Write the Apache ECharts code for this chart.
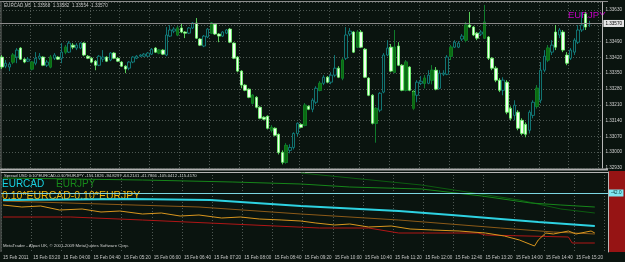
<!DOCTYPE html>
<html><head><meta charset="utf-8">
<script src="https://cdn.jsdelivr.net/npm/echarts@6/dist/echarts.min.js"></script>
<style>html,body{margin:0;padding:0;background:#0a140f;}#c{width:625px;height:262px;}</style>
</head><body><div id="c"></div>
<script>
// ---- data ----
const totalSlots = 161; // 158 bars + chart shift space
const tickLabels = ['15 Feb 2011','15 Feb 03:20','15 Feb 04:00','15 Feb 04:40','15 Feb 05:20','15 Feb 06:00','15 Feb 06:40','15 Feb 07:20','15 Feb 08:00','15 Feb 08:40','15 Feb 09:20','15 Feb 10:00','15 Feb 10:40','15 Feb 11:20','15 Feb 12:00','15 Feb 12:40','15 Feb 13:20','15 Feb 14:00','15 Feb 14:40','15 Feb 15:20'];
const priceTicks = {min: 1.3293, max: 1.33665, step: 0.0007};

const cadOpen = [1.33421,1.33381,1.33377,1.33399,1.33421,1.33461,1.33412,1.33403,1.33368,1.33394,1.33416,1.33421,1.33385,1.33377,1.33416,1.33421,1.33416,1.33443,1.33443,1.33474,1.33461,1.33461,1.33483,1.33425,1.33416,1.33403,1.33385,1.33412,1.33421,1.33408,1.33439,1.33416,1.33399,1.33381,1.33372,1.33399,1.33416,1.33425,1.33425,1.33425,1.33434,1.33461,1.33439,1.33452,1.33430,1.33514,1.33536,1.33519,1.33550,1.33532,1.33527,1.33550,1.33572,1.33501,1.33470,1.33510,1.33527,1.33567,1.33523,1.33514,1.33527,1.33545,1.33483,1.33421,1.33359,1.33297,1.33279,1.33217,1.33243,1.33199,1.33155,1.33159,1.33097,1.33106,1.33079,1.32999,1.32955,1.33008,1.33021,1.33083,1.33123,1.33119,1.33203,1.33190,1.33221,1.33274,1.33305,1.33332,1.33310,1.33341,1.33372,1.33328,1.33416,1.33523,1.33532,1.33465,1.33532,1.33456,1.33328,1.33252,1.33128,1.33186,1.33266,1.33430,1.33465,1.33354,1.33470,1.33385,1.33274,1.33377,1.33270,1.33252,1.33305,1.33305,1.33305,1.33319,1.33363,1.33283,1.33345,1.33345,1.33425,1.33465,1.33465,1.33501,1.33496,1.33563,1.33554,1.33527,1.33523,1.33505,1.33510,1.33416,1.33372,1.33319,1.33274,1.33310,1.33194,1.33163,1.33177,1.33141,1.33123,1.33097,1.33163,1.33203,1.33230,1.33363,1.33408,1.33443,1.33532,1.33519,1.33532,1.33430,1.33416,1.33443,1.33487,1.33541,1.33612,1.33568];
const cadHigh = [1.33430,1.33408,1.33399,1.33439,1.33461,1.33465,1.33416,1.33421,1.33403,1.33443,1.33439,1.33425,1.33408,1.33430,1.33439,1.33425,1.33483,1.33474,1.33492,1.33483,1.33483,1.33487,1.33487,1.33430,1.33421,1.33408,1.33430,1.33452,1.33425,1.33443,1.33443,1.33421,1.33403,1.33385,1.33403,1.33425,1.33430,1.33434,1.33439,1.33443,1.33461,1.33465,1.33456,1.33456,1.33554,1.33563,1.33554,1.33559,1.33572,1.33536,1.33554,1.33576,1.33594,1.33505,1.33519,1.33550,1.33576,1.33572,1.33527,1.33536,1.33545,1.33550,1.33487,1.33425,1.33363,1.33301,1.33283,1.33257,1.33248,1.33203,1.33159,1.33163,1.33119,1.33110,1.33083,1.33008,1.33039,1.33035,1.33088,1.33132,1.33128,1.33217,1.33208,1.33239,1.33292,1.33314,1.33341,1.33337,1.33354,1.33430,1.33381,1.33416,1.33554,1.33550,1.33536,1.33541,1.33541,1.33461,1.33332,1.33257,1.33199,1.33266,1.33439,1.33496,1.33479,1.33541,1.33487,1.33390,1.33408,1.33381,1.33274,1.33319,1.33337,1.33341,1.33363,1.33385,1.33377,1.33363,1.33363,1.33430,1.33474,1.33496,1.33492,1.33523,1.33576,1.33621,1.33559,1.33532,1.33541,1.33652,1.33514,1.33421,1.33381,1.33328,1.33332,1.33319,1.33203,1.33230,1.33186,1.33150,1.33132,1.33186,1.33230,1.33297,1.33399,1.33452,1.33474,1.33496,1.33563,1.33550,1.33541,1.33443,1.33461,1.33505,1.33563,1.33621,1.33621,1.33582];
const cadLow = [1.33368,1.33372,1.33359,1.33390,1.33394,1.33408,1.33394,1.33399,1.33363,1.33385,1.33408,1.33381,1.33377,1.33372,1.33408,1.33408,1.33394,1.33434,1.33439,1.33456,1.33452,1.33456,1.33425,1.33412,1.33394,1.33363,1.33381,1.33399,1.33399,1.33403,1.33412,1.33399,1.33377,1.33350,1.33363,1.33394,1.33412,1.33421,1.33421,1.33421,1.33430,1.33439,1.33434,1.33430,1.33425,1.33510,1.33527,1.33514,1.33527,1.33505,1.33523,1.33545,1.33501,1.33470,1.33465,1.33505,1.33523,1.33519,1.33487,1.33510,1.33523,1.33483,1.33412,1.33354,1.33283,1.33270,1.33239,1.33212,1.33194,1.33146,1.33141,1.33101,1.33088,1.33070,1.32990,1.32946,1.32950,1.32995,1.33012,1.33070,1.33106,1.33115,1.33186,1.33177,1.33212,1.33270,1.33297,1.33305,1.33301,1.33332,1.33328,1.33319,1.33408,1.33514,1.33439,1.33461,1.33461,1.33328,1.33248,1.33123,1.33043,1.33177,1.33261,1.33425,1.33354,1.33350,1.33381,1.33270,1.33270,1.33270,1.33230,1.33221,1.33297,1.33283,1.33301,1.33301,1.33274,1.33279,1.33337,1.33341,1.33408,1.33461,1.33461,1.33492,1.33487,1.33550,1.33514,1.33496,1.33514,1.33501,1.33408,1.33363,1.33310,1.33266,1.33252,1.33168,1.33141,1.33141,1.33097,1.33075,1.33066,1.33083,1.33150,1.33194,1.33217,1.33354,1.33399,1.33430,1.33452,1.33505,1.33443,1.33385,1.33408,1.33430,1.33479,1.33532,1.33541,1.33554];
const cadClose = [1.33377,1.33394,1.33390,1.33430,1.33452,1.33412,1.33399,1.33412,1.33399,1.33416,1.33425,1.33385,1.33399,1.33421,1.33430,1.33412,1.33443,1.33465,1.33483,1.33465,1.33474,1.33483,1.33430,1.33416,1.33399,1.33385,1.33425,1.33421,1.33403,1.33439,1.33416,1.33403,1.33381,1.33368,1.33399,1.33421,1.33425,1.33430,1.33434,1.33439,1.33456,1.33443,1.33452,1.33434,1.33519,1.33541,1.33545,1.33550,1.33532,1.33527,1.33550,1.33572,1.33505,1.33474,1.33514,1.33545,1.33572,1.33523,1.33514,1.33532,1.33541,1.33487,1.33416,1.33359,1.33297,1.33274,1.33243,1.33252,1.33199,1.33150,1.33146,1.33106,1.33110,1.33075,1.32999,1.32955,1.33030,1.33021,1.33083,1.33128,1.33110,1.33208,1.33190,1.33230,1.33283,1.33305,1.33332,1.33310,1.33341,1.33372,1.33332,1.33408,1.33519,1.33536,1.33443,1.33532,1.33465,1.33332,1.33252,1.33128,1.33194,1.33261,1.33430,1.33461,1.33359,1.33465,1.33385,1.33274,1.33399,1.33274,1.33252,1.33310,1.33314,1.33328,1.33341,1.33363,1.33279,1.33350,1.33350,1.33421,1.33465,1.33487,1.33483,1.33514,1.33563,1.33554,1.33519,1.33505,1.33532,1.33576,1.33416,1.33372,1.33319,1.33274,1.33319,1.33177,1.33150,1.33208,1.33106,1.33083,1.33079,1.33177,1.33221,1.33283,1.33363,1.33425,1.33461,1.33474,1.33465,1.33541,1.33452,1.33394,1.33452,1.33496,1.33541,1.33563,1.33554,1.33570];

// EURJPY overlay bars (dark green), only where they show
const jpyIdx   = [3,8,13,17,42,47,56,67,72,76,81,85,91,95,100,105,108,110,113,115,120,124,129,143,146];
const jpyOpen  = [1.33399,1.33368,1.33377,1.33443,1.33439,1.33519,1.33527,1.33217,1.33097,1.32955,1.33119,1.33274,1.33328,1.33465,1.33128,1.33354,1.33274,1.33194,1.33305,1.33319,1.33425,1.33496,1.33505,1.33203,1.33408];
const jpyHigh  = [1.33439,1.33403,1.33430,1.33474,1.33456,1.33559,1.33576,1.33257,1.33119,1.33039,1.33217,1.33314,1.33416,1.33541,1.33199,1.33541,1.33408,1.33274,1.33341,1.33385,1.33474,1.33576,1.33652,1.33297,1.33474];
const jpyLow   = [1.33390,1.33363,1.33372,1.33434,1.33434,1.33514,1.33523,1.33212,1.33088,1.32950,1.33115,1.33270,1.33319,1.33461,1.33043,1.33350,1.33270,1.33186,1.33283,1.33301,1.33408,1.33487,1.33501,1.33194,1.33399];
const jpyClose = [1.33430,1.33399,1.33421,1.33465,1.33452,1.33550,1.33572,1.33252,1.33110,1.33030,1.33208,1.33305,1.33408,1.33532,1.33194,1.33465,1.33399,1.33266,1.33328,1.33363,1.33465,1.33563,1.33576,1.33283,1.33461];

// lower window: [bar index, value]
const cadNorm   = [[0,-56],[34,-54],[55,-56],[79,-68],[105,-78],[119,-86],[132,-94],[142,-100],[157,-108]];
const jpyNorm   = [[0,-12],[37,-16],[61,-20],[79,-24],[92,-30],[111,-34],[127,-48],[140,-62],[148,-66],[157,-70]];
const jpyNorm2  = [[79,-2],[111,-26],[137,-56],[148,-74],[157,-82]];
const spread    = [[0,-66],[5,-70],[10,-68],[15,-76],[21,-74],[26,-80],[31,-78],[37,-84],[42,-82],[47,-88],[52,-86],[58,-92],[63,-90],[68,-94],[74,-96],[79,-98],[83,-102],[88,-106],[92,-104],[97,-110],[103,-108],[108,-114],[114,-116],[121,-118],[128,-122],[133,-128],[137,-136],[141,-148],[142,-136],[144,-122],[146,-124],[150,-118],[152,-124],[156,-118],[157,-122]];
const spreadMA  = [[0,-58],[52,-70],[79,-84],[105,-96],[132,-112],[146,-120],[157,-124]];
const spreadLow = [[0,-90],[18,-90],[37,-96],[84,-112],[97,-112],[105,-122],[126,-122],[128,-126],[150,-130],[151,-142],[157,-142]];
const levelValue = -42;

// ---- build ----
const cats = Array.from({length: totalSlots}, (_, i) => String(i));
const cadData = cadOpen.map((o, i) => [o, cadClose[i], cadLow[i], cadHigh[i]]);
const jpyData = jpyIdx.map((ix, k) => [ix, jpyOpen[k], jpyClose[k], jpyLow[k], jpyHigh[k]]);
const gridDot = {show: true, lineStyle: {color: '#4e5853', type: [1, 2], width: 1}};
const vSplit = {show: true, interval: (i) => i % 8 === 0, lineStyle: gridDot.lineStyle};
const FONT = 'Arial, "Liberation Sans", sans-serif';

const chart = echarts.init(document.getElementById('c'), null, {renderer: 'canvas'});
chart.setOption({
  backgroundColor: '#0a140f',
  animation: false,
  grid: [
    {left: 0, right: 17, top: 2, height: 166},
    {left: 0, right: 17, top: 172, height: 80}
  ],
  xAxis: [
    {type: 'category', gridIndex: 0, data: cats, boundaryGap: true,
     axisLine: {show: false}, axisTick: {show: false}, axisLabel: {show: false}, splitLine: vSplit},
    {type: 'category', gridIndex: 1, data: cats, boundaryGap: true,
     axisLine: {show: true, lineStyle: {color: '#b4b4b4', width: 1}}, axisTick: {show: false},
     axisLabel: {show: true, interval: (i) => i % 8 === 0 && i / 8 < tickLabels.length,
       formatter: (v, i) => tickLabels[i / 8] || '', align: 'left', color: '#c8c8c8', fontSize: 4.6, fontFamily: FONT, margin: 3},
     splitLine: vSplit}
  ],
  yAxis: [
    {type: 'value', gridIndex: 0, position: 'right', min: priceTicks.min, max: priceTicks.max, interval: priceTicks.step,
     axisLine: {show: true, lineStyle: {color: '#b8b8b8'}}, axisTick: {show: false},
     axisLabel: {color: '#d0d0d0', fontSize: 4.6, fontFamily: FONT, margin: 3, showMaxLabel: false,
       formatter: (v) => v.toFixed(5)},
     splitLine: gridDot},
    {type: 'value', gridIndex: 1, position: 'right', min: -160, max: 0,
     axisLine: {show: true, lineStyle: {color: '#b8b8b8'}}, axisTick: {show: false},
     axisLabel: {show: false}, splitLine: {show: false}}
  ],
  series: [
    {type: 'candlestick', name: 'EURCAD', xAxisIndex: 0, yAxisIndex: 0, data: cadData, barWidth: 3,
     itemStyle: {color: '#0a140f', color0: '#f4fff2', borderColor: '#138c8c', borderColor0: '#6cff6c', borderWidth: 0.8},
     markLine: {silent: true, symbol: ['none', 'none'], precision: 5,
       lineStyle: {color: '#8a8a8a', type: 'solid', width: 1},
       label: {show: true, position: 'end', distance: 1, formatter: (p) => p.value.toFixed(5),
         backgroundColor: '#e6e6e6', color: '#000', fontSize: 4.6, fontFamily: FONT, padding: [1, 2]},
       data: [{yAxis: cadClose[cadClose.length - 1]}]}},
    {type: 'candlestick', name: 'EURJPY', xAxisIndex: 0, yAxisIndex: 0, data: jpyData, barWidth: 3,
     encode: {x: 0, y: [1, 2, 3, 4]}, z: 3,
     itemStyle: {color: '#0b6a12', color0: '#0b6a12', borderColor: '#0f7d18', borderColor0: '#0f7d18', borderWidth: 0.8}},
    {type: 'line', xAxisIndex: 1, yAxisIndex: 1, data: jpyNorm2, symbol: 'none', lineStyle: {color: '#0c5c10', width: 1}},
    {type: 'line', xAxisIndex: 1, yAxisIndex: 1, data: jpyNorm, symbol: 'none', lineStyle: {color: '#16861a', width: 1}},
    {type: 'line', xAxisIndex: 1, yAxisIndex: 1, data: spreadLow, symbol: 'none', lineStyle: {color: '#b01616', width: 1}},
    {type: 'line', xAxisIndex: 1, yAxisIndex: 1, data: spreadMA, symbol: 'none', lineStyle: {color: '#8c5a18', width: 1}},
    {type: 'line', xAxisIndex: 1, yAxisIndex: 1, data: spread, symbol: 'none', lineStyle: {color: '#d9961e', width: 1}},
    {type: 'line', xAxisIndex: 1, yAxisIndex: 1, data: cadNorm, symbol: 'none', lineStyle: {color: '#2ed2e2', width: 2},
     markLine: {silent: true, symbol: ['none', 'none'], lineStyle: {color: '#7cd6e2', type: 'solid', width: 1},
       label: {show: true, position: 'end', distance: 1, formatter: (p) => p.value.toFixed(1),
         backgroundColor: '#7fe6f0', color: '#0a3a3a', fontSize: 4.6, fontFamily: FONT, padding: [1, 2]},
       data: [{yAxis: levelValue}]}}
  ],
  graphic: [
    {type: 'rect', left: 609, top: 171, shape: {width: 16, height: 81}, style: {fill: '#961414'}, z: 0},
    {type: 'line', shape: {x1: 0, y1: 1.5, x2: 608, y2: 1.5}, style: {stroke: '#8c8c8c', lineWidth: 1}},
    {type: 'line', shape: {x1: 1, y1: 1, x2: 1, y2: 252}, style: {stroke: '#6c6c6c', lineWidth: 1}},
    {type: 'line', shape: {x1: 0, y1: 169.5, x2: 608, y2: 169.5}, style: {stroke: '#b0b0b0', lineWidth: 2}},
    {type: 'text', x: 4, y: 3, style: {text: 'EURCAD,M5  1.33568  1.33582  1.33554  1.33570', fill: '#c8c8c8', font: '4.6px ' + FONT}},
    {type: 'text', x: 568, y: 10, style: {text: 'EURJPY', fill: '#c400c4', font: '9.5px ' + FONT}},
    {type: 'text', x: 4, y: 174, style: {text: 'Spread USD 0.10*EURCAD-0.10*EURJPY -151.1826 -94.8297 -64.2141 -41.7866 -105.0412 -115.4170', fill: '#d8d8d8', font: '4.2px ' + FONT}},
    {type: 'text', x: 2, y: 179, style: {text: 'EURCAD', fill: '#18d4e4', font: '10px ' + FONT}},
    {type: 'text', x: 56, y: 179, style: {text: 'EURJPY', fill: '#178a1a', font: '10px ' + FONT}},
    {type: 'text', x: 2, y: 191, style: {text: '0.10*EURCAD-0.10*EURJPY', fill: '#f0b20a', font: '10.5px ' + FONT}},
    {type: 'text', x: 3, y: 244, style: {text: 'MetaTrader - Alpari UK, © 2001-2009 MetaQuotes Software Corp.', fill: '#d0d0d0', font: '4.3px ' + FONT}}
  ]
});
</script>
</body></html>
